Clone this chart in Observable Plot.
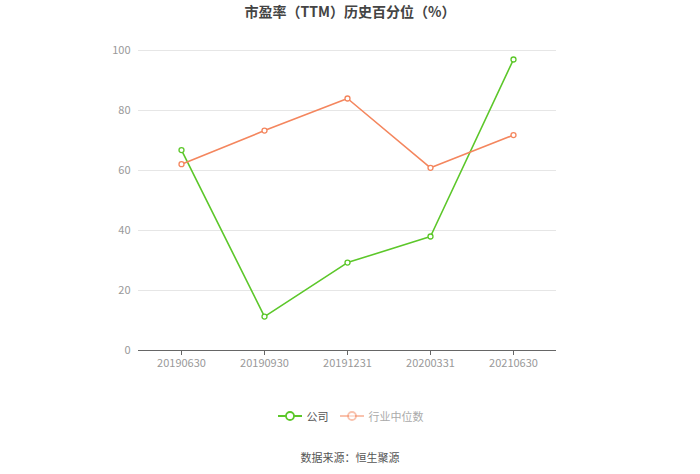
<!DOCTYPE html>
<html><head><meta charset="utf-8">
<script src="https://cdn.jsdelivr.net/npm/d3@7"></script>
<script src="https://cdn.jsdelivr.net/npm/@observablehq/plot@0.6"></script>
<style>
body{margin:0;background:#fff;font-family:"Noto Sans CJK SC","Noto Sans",sans-serif;}
#wrap{width:700px;height:474px;position:relative;overflow:hidden}
#title{height:26px;line-height:23px;text-align:center;font-size:14px;font-weight:bold;color:#444;}
#legend{height:28px;display:flex;justify-content:center;align-items:center;font-size:11px;color:#666;gap:10px}
.item{display:flex;align-items:center;gap:4px}
#caption{text-align:center;font-size:11px;color:#555;margin-top:19px}
</style></head>
<body><div id="wrap">
<div id="title">市盈率（TTM）历史百分位（%）</div>
<div id="chart"></div>
<div id="legend"></div>
<div id="caption">数据来源：恒生聚源</div>
</div>
<script>
const dates = ["20190630","20190930","20191231","20200331","20210630"];
const company = [66.8, 11.3, 29.3, 38.0, 97.0];
const industry = [62.1, 73.3, 84.0, 60.9, 71.8];
const seriesNames = ["公司","行业中位数"];
const colors = ["#5cc72a","#f4865e"];
const yTicks = [0,20,40,60,80,100];

const data = [];
dates.forEach((d,i)=>{
  data.push({date:d, value:company[i], s:seriesNames[0]});
  data.push({date:d, value:industry[i], s:seriesNames[1]});
});

const chart = Plot.plot({
  width:700, height:376,
  marginTop:24, marginBottom:52, marginLeft:138, marginRight:144,
  style:{fontFamily:"'Noto Sans CJK SC','Noto Sans',sans-serif", fontSize:"11px", color:"#999"},
  x:{type:"point", domain:dates, padding:0.5, label:null},
  y:{domain:[0,100], ticks:yTicks, label:null},
  color:{domain:seriesNames, range:colors},
  marks:[
    Plot.gridY(yTicks,{stroke:"#e6e6e6", strokeOpacity:1}),
    Plot.axisY(yTicks,{tickSize:0, tickPadding:8, fill:"#999", fontSize:11}),
    Plot.ruleY([0],{stroke:"#666"}),
    Plot.axisX({tickSize:5, tickPadding:4, stroke:"#666", fill:"#999", fontSize:11}),
    Plot.line(data,{x:"date", y:"value", stroke:"s", strokeWidth:1.6}),
    Plot.dot(data,{x:"date", y:"value", stroke:"s", fill:"white", r:2.5, strokeWidth:1.3})
  ]
});
document.getElementById("chart").appendChild(chart);

const lg = document.getElementById("legend");
seriesNames.forEach((n,i)=>{
  const faded = i===1;
  const c = colors[i];
  const el = document.createElement("div");
  el.className="item";
  el.innerHTML = `<svg width="26" height="12"><line x1="1" y1="6" x2="25" y2="6" stroke="${c}" stroke-width="2" opacity="${faded?0.5:1}"/><circle cx="13" cy="6" r="4" fill="white" stroke="${c}" stroke-width="1.8" opacity="${faded?0.5:1}"/></svg><span style="color:${faded?'#aaa':'#555'}">${n}</span>`;
  lg.appendChild(el);
});
</script>
</body></html>
